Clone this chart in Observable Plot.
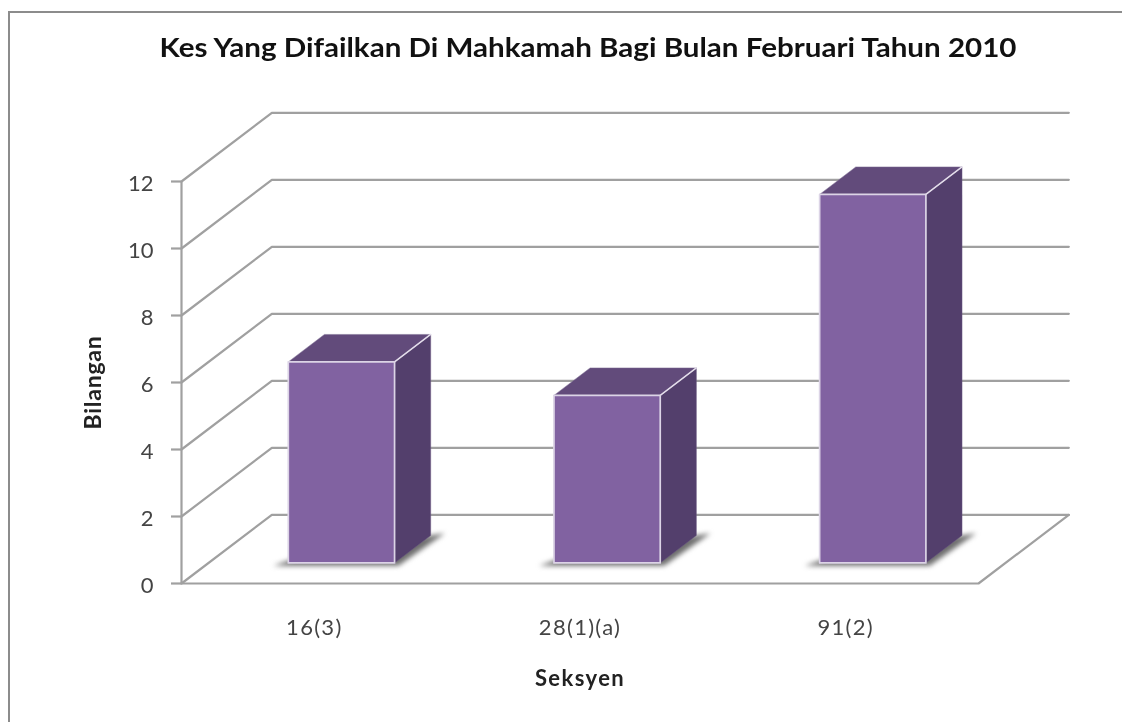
<!DOCTYPE html>
<html>
<head>
<meta charset="utf-8">
<script src="https://cdn.jsdelivr.net/npm/d3@7"></script>
<script src="https://cdn.jsdelivr.net/npm/@observablehq/plot@0.6"></script>
<style>
  html, body { margin: 0; padding: 0; background: #fff; overflow: hidden; }
  #frame { position: absolute; left: 8px; top: 11px; width: 1114px; height: 711px;
           border-left: 2px solid #8c8c8c; border-top: 2px solid #8c8c8c; box-sizing: border-box; }
  #title { position: absolute; left: 60px; top: 0; width: 1056px; height: 82px; text-align: center;
           font: bold 27.5px Lato, sans-serif; color: #111; padding-top: 30px; box-sizing: border-box;
           white-space: nowrap; transform: scaleX(1.075); transform-origin: 528px 0; filter: blur(0.4px); }
  #chart { position: absolute; left: 0; top: 82px; }
  #chart svg { filter: blur(0.45px); }
</style>
</head>
<body>
<div id="frame"></div>
<div id="title">Kes Yang Difailkan Di Mahkamah Bagi Bulan Februari Tahun 2010</div>
<div id="chart"></div>
<script>
const categories = ["16(3)", "28(1)(a)", "91(2)"];
const values = [6, 5, 11];
const yTicks = [0, 2, 4, 6, 8, 10, 12];
const xLabel = "Seksyen";
const yLabel = "Bilangan";

// Oblique projection expressed in scale units: depth t of 0..1 moves a point along both axes
const skewX = 0.34, skewY = 2.05;
const P = (c, v, t, id) => ({x: c + skewX * t, y: v + skewY * t, id});

const barW = 0.4, t0 = 0.3, t1 = 0.7;
const faces = {front: [], side: [], top: [], shadow: [], ridge: []};
values.forEach((v, i) => {
  const l = i + 0.5 - barW / 2, r = i + 0.5 + barW / 2;
  const poly = (key, pts) => faces[key].push(...pts.map(p => P(p[0], p[1], p[2], i)));
  poly("front", [[l,0,t0],[r,0,t0],[r,v,t0],[l,v,t0],[l,0,t0]]);
  poly("side",  [[r,0,t0],[r,0,t1],[r,v,t1],[r,v,t0],[r,0,t0]]);
  poly("top",   [[l,v,t0],[r,v,t0],[r,v,t1],[l,v,t1],[l,v,t0]]);
  poly("ridge", [[r,v,t0],[r,v,t1]]);
  poly("shadow",[[l-0.042,0,0.26],[r+0.028,0,0.26],[r+0.043,0,0.73],[r,0,0.7],[l,0,0.36],[l-0.042,0,0.26]]);
});

const wall = [];
yTicks.forEach(v => {
  wall.push(P(0, v, 0, v), P(0, v, 1, v), P(3, v, 1, v));
});
const floorEdge = [P(0,0,0,"f"), P(3,0,0,"f"), P(3,0,1,"f")];

const gridColor = "#a0a0a0";
const chart = Plot.plot({
  width: 1122, height: 640,
  marginLeft: 181, marginRight: 144, marginTop: 99, marginBottom: 139,
  style: {background: "transparent", fontFamily: "Lato, sans-serif", overflow: "visible"},
  x: {domain: [0, 3], axis: null},
  y: {domain: [0, 12], axis: null},
  marks: [
    Plot.line(wall, {x: "x", y: "y", z: "id", stroke: gridColor, strokeWidth: 2.2, curve: "linear"}),
    Plot.line(floorEdge, {x: "x", y: "y", z: "id", stroke: gridColor, strokeWidth: 2.2}),
    Plot.ruleX([0], {y1: 0, y2: 12, stroke: gridColor, strokeWidth: 2.2}),
    Plot.ruleY(yTicks, {x1: -0.0376, x2: 0, stroke: gridColor, strokeWidth: 2.2}),
    Plot.axisY({ticks: yTicks, tickSize: 0, tickPadding: 28, dy: 2.5, fontSize: 22, label: null, fill: "#444"}),
    Plot.axisX({ticks: categories.map((d, i) => i + 0.5), tickFormat: d => categories[d - 0.5],
                tickSize: 0, tickPadding: 36, fontSize: 22, label: null, fill: "#444"}),
    Plot.line(faces.shadow, {x: "x", y: "y", z: "id", fill: "#6e6e6e", stroke: "none", imageFilter: "blur(2.5px)"}),
    Plot.line(faces.side, {x: "x", y: "y", z: "id", fill: "#533f6c", stroke: "#6a5a80", strokeWidth: 0.5}),
    Plot.line(faces.top, {x: "x", y: "y", z: "id", fill: "#624b7b", stroke: "#7b6a90", strokeWidth: 0.5}),
    Plot.line(faces.ridge, {x: "x", y: "y", z: "id", stroke: "#e4deeb", strokeWidth: 1.5}),
    Plot.line(faces.front, {x: "x", y: "y", z: "id", fill: "#8162a1", stroke: "#dcd4e6", strokeWidth: 1.7}),
    Plot.text([xLabel], {x: [1.5], y: [0], dy: 95, fontSize: 22, fontWeight: "bold", fill: "#222"}),
    Plot.text([yLabel], {x: [0], y: [6], dx: -88, rotate: -90, fontSize: 23, fontWeight: "bold", fill: "#222"})
  ]
});
d3.select(chart).selectAll("text").each(function () {
  const t = this.textContent;
  const s = categories.includes(t) ? 1.3 : t === xLabel ? 1.4 : t === yLabel ? 0.75 : 0;
  if (s) this.style.letterSpacing = s + "px";
});
document.getElementById("chart").append(chart);
</script>
</body>
</html>
